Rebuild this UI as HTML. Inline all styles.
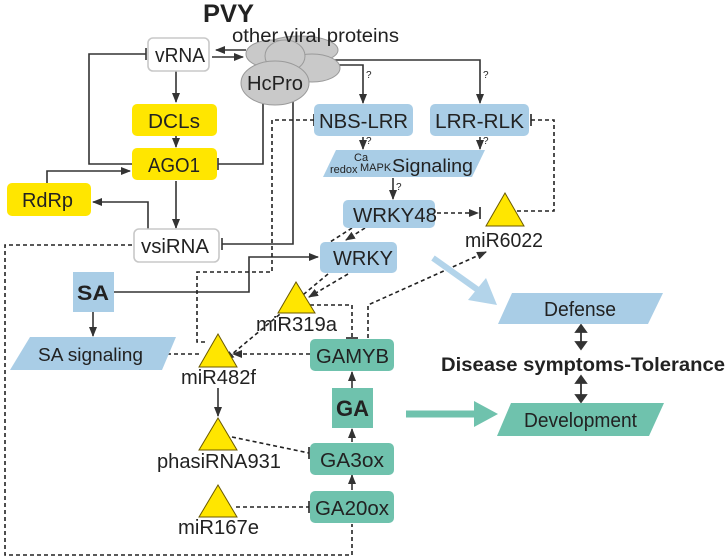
<!DOCTYPE html>
<html><head><meta charset="utf-8"><style>
html,body{margin:0;padding:0;background:#fff;}
svg{display:block;font-family:"Liberation Sans",sans-serif;}
</style></head><body>
<svg width="728" height="560" viewBox="0 0 728 560" xmlns="http://www.w3.org/2000/svg">
<defs>
<marker id="a" markerWidth="10" markerHeight="8" refX="9" refY="4" orient="auto" markerUnits="userSpaceOnUse"><path d="M0,0 L10,4 L0,8 z" fill="#333"/></marker>
</defs>
<g stroke="#333" stroke-width="1.6" fill="none">
<path d="M132,164 H89 V54 H146"/><path d="M146,48 V60"/>
<path d="M246,50 H216" marker-end="url(#a)"/>
<path d="M212,57 H243" marker-end="url(#a)"/>
<path d="M176,71 V102" marker-end="url(#a)"/>
<path d="M176,136 V147" marker-end="url(#a)"/>
<path d="M176,181 V228" marker-end="url(#a)"/>
<path d="M47,183 V171 H130" marker-end="url(#a)"/>
<path d="M148,229 V202 H93" marker-end="url(#a)"/>
<path d="M263,104 V164 H218"/><path d="M218,158 V170"/>
<path d="M293,102 V244 H222"/><path d="M222,238 V250"/>
<path d="M334,60 H480 V103" marker-end="url(#a)"/>
<path d="M336,65 H363 V103" marker-end="url(#a)"/>
<path d="M363,137 V149" marker-end="url(#a)"/>
<path d="M480,137 V149" marker-end="url(#a)"/>
<path d="M393,178 V199" marker-end="url(#a)"/>
<path d="M114,292 H249 V257 H318" marker-end="url(#a)"/>
<path d="M93,312 V336" marker-end="url(#a)"/>
<path d="M218,388 V416" marker-end="url(#a)"/>
<path d="M352,388 V372" marker-end="url(#a)"/>
<path d="M352,442 V429" marker-end="url(#a)"/>
<path d="M352,490 V475" marker-end="url(#a)"/>
</g>
<g stroke="#333" stroke-width="1.8" fill="#333">
<path d="M581,327 V347" fill="none"/><path d="M576,332 L581,325 L586,332 z M576,342 L581,349 L586,342 z"/>
<path d="M581,378 V400" fill="none"/><path d="M576,383 L581,376 L586,383 z M576,395 L581,402 L586,395 z"/>
</g>
<g stroke="#222" stroke-width="1.6" fill="none" stroke-dasharray="4,3">
<path d="M132,245 H5 V555 H352 V524"/>
<path d="M314,120 H272 V272 H197 V342 H206"/>
<path d="M531,120 H554 V211 H514"/>
<path d="M437,213 H478" marker-end="url(#a)"/>
<path d="M352,228 L330,242"/>
<path d="M365,228 L346,240" marker-end="url(#a)"/>
<path d="M328,274 L225,360" marker-end="url(#a)"/>
<path d="M348,274 L309,297" marker-end="url(#a)"/>
<path d="M310,305 H352 V338"/>
<path d="M368,338 V305 L486,252" marker-end="url(#a)"/>
<path d="M167,354 H200"/>
<path d="M310,354 H233" marker-end="url(#a)"/>
<path d="M232,437 L309,453"/>
<path d="M236,507 H309"/>
</g>
<g stroke="#222" stroke-width="1.6">
<path d="M314,114 V126"/><path d="M480,207 V219"/><path d="M346,338 H358"/><path d="M309,447 V459"/><path d="M309,501 V513"/><path d="M531,114 V126"/>
</g>
<path d="M433,258 L478,290" stroke="#b3d4ea" stroke-width="6"/>
<path d="M468,300 L497,305 L486,278 z" fill="#b3d4ea"/>
<path d="M406,414 H478" stroke="#6fc2ad" stroke-width="7"/>
<path d="M474,401 L498,414 L474,427 z" fill="#6fc2ad"/>
<g fill="#c9c9c9" stroke="#9a9a9a" stroke-width="1">
<ellipse cx="300" cy="50" rx="38" ry="14"/>
<ellipse cx="272" cy="54" rx="26" ry="14"/>
<ellipse cx="312" cy="68" rx="28" ry="14"/>
<ellipse cx="285" cy="56" rx="20" ry="16"/>
<ellipse cx="275" cy="83" rx="34" ry="22"/>
</g>
<g stroke="#c8c8c8" stroke-width="1.6" fill="#fff">
<rect x="148" y="38" width="61" height="33" rx="5"/>
<rect x="134" y="229" width="85" height="33" rx="5"/>
</g>
<g fill="#ffe600">
<rect x="132" y="104" width="85" height="32" rx="5"/>
<rect x="132" y="148" width="85" height="32" rx="5"/>
<rect x="7" y="183" width="84" height="33" rx="5"/>
</g>
<g fill="#a9cde6">
<rect x="314" y="104" width="99" height="32" rx="5"/>
<rect x="430" y="104" width="99" height="32" rx="5"/>
<path d="M336,150 H485 L472,177 H323 z"/>
<rect x="343" y="200" width="92" height="28" rx="5"/>
<rect x="320" y="242" width="77" height="31" rx="5"/>
<rect x="73" y="272" width="41" height="40" />
<path d="M30,337 H176 L162,370 H10 z"/>
<path d="M512,293 H663 L648,324 H498 z"/>
</g>
<g fill="#6fc2ad">
<rect x="310" y="339" width="84" height="32" rx="5"/>
<rect x="332" y="388" width="41" height="40"/>
<rect x="310" y="443" width="84" height="32" rx="5"/>
<rect x="310" y="491" width="84" height="32" rx="5"/>
<path d="M511,403 H664 L649,436 H497 z"/>
</g>
<g fill="#ffe600" stroke="#6b5a00" stroke-width="1">
<path d="M505,193 L486,226 L524,226 z"/>
<path d="M296,282 L278,313 L315,313 z"/>
<path d="M218,334 L199,367 L237,367 z"/>
<path d="M218,418 L199,450 L237,450 z"/>
<path d="M218,485 L199,517 L237,517 z"/>
</g>
<g fill="#222" font-size="20" lengthAdjust="spacingAndGlyphs">
<text x="203" y="22" font-size="25" font-weight="bold" textLength="51" lengthAdjust="spacingAndGlyphs">PVY</text>
<text x="232" y="42" font-size="19" textLength="167" lengthAdjust="spacingAndGlyphs">other viral proteins</text>
<text x="155" y="62" textLength="50" lengthAdjust="spacingAndGlyphs">vRNA</text>
<text x="247" y="90" textLength="56" lengthAdjust="spacingAndGlyphs">HcPro</text>
<text x="148" y="128" textLength="52" lengthAdjust="spacingAndGlyphs">DCLs</text>
<text x="148" y="172" textLength="52" lengthAdjust="spacingAndGlyphs">AGO1</text>
<text x="22" y="207" textLength="51" lengthAdjust="spacingAndGlyphs">RdRp</text>
<text x="141" y="253" textLength="68" lengthAdjust="spacingAndGlyphs">vsiRNA</text>
<text x="319" y="128" textLength="89" lengthAdjust="spacingAndGlyphs">NBS-LRR</text>
<text x="435" y="128" textLength="89" lengthAdjust="spacingAndGlyphs">LRR-RLK</text>
<text x="354" y="161" font-size="11">Ca</text>
<text x="330" y="173" font-size="11">redox</text>
<text x="360" y="171" font-size="11">MAPK</text>
<text x="392" y="172" font-size="18" textLength="81" lengthAdjust="spacingAndGlyphs">Signaling</text>
<text x="353" y="222" textLength="84" lengthAdjust="spacingAndGlyphs">WRKY48</text>
<text x="333" y="265" textLength="60" lengthAdjust="spacingAndGlyphs">WRKY</text>
<text x="465" y="247" textLength="78" lengthAdjust="spacingAndGlyphs">miR6022</text>
<text x="77" y="300" font-weight="bold" font-size="21" textLength="32" lengthAdjust="spacingAndGlyphs">SA</text>
<text x="38" y="361" font-size="18" textLength="105" lengthAdjust="spacingAndGlyphs">SA signaling</text>
<text x="256" y="331" textLength="81" lengthAdjust="spacingAndGlyphs">miR319a</text>
<text x="181" y="384" textLength="75" lengthAdjust="spacingAndGlyphs">miR482f</text>
<text x="316" y="363" textLength="73" lengthAdjust="spacingAndGlyphs">GAMYB</text>
<text x="336" y="416" font-weight="bold" font-size="22" textLength="33" lengthAdjust="spacingAndGlyphs">GA</text>
<text x="320" y="467" textLength="64" lengthAdjust="spacingAndGlyphs">GA3ox</text>
<text x="315" y="515" textLength="74" lengthAdjust="spacingAndGlyphs">GA20ox</text>
<text x="157" y="468" textLength="124" lengthAdjust="spacingAndGlyphs">phasiRNA931</text>
<text x="178" y="534" textLength="81" lengthAdjust="spacingAndGlyphs">miR167e</text>
<text x="544" y="316" textLength="72" lengthAdjust="spacingAndGlyphs">Defense</text>
<text x="524" y="427" textLength="113" lengthAdjust="spacingAndGlyphs">Development</text>
<text x="441" y="371" font-weight="bold" font-size="19" textLength="284" lengthAdjust="spacingAndGlyphs">Disease symptoms-Tolerance</text>
</g>
<g fill="#222" font-size="10">
<text x="366" y="78">?</text><text x="483" y="78">?</text>
<text x="366" y="144">?</text><text x="483" y="144">?</text>
<text x="396" y="190">?</text>
</g>
</svg>
</body></html>
